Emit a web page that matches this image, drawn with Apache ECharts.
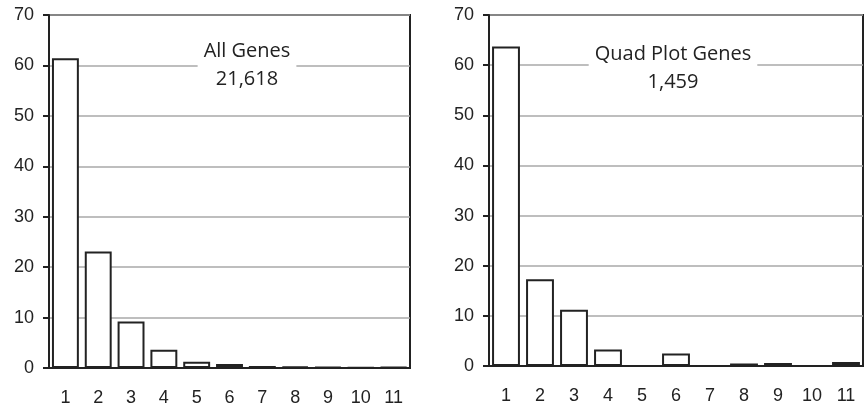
<!DOCTYPE html>
<html>
<head>
<meta charset="utf-8">
<script src="https://cdn.jsdelivr.net/npm/echarts@6/dist/echarts.min.js"></script>
<style>
  html, body { margin: 0; padding: 0; background: #fff; }
  #chart { width: 867px; height: 418px; }
</style>
</head>
<body>
<div id="chart"></div>
<script>
const categories = ['1', '2', '3', '4', '5', '6', '7', '8', '9', '10', '11']
const allGenes = [61.4, 23.1, 9.2, 3.6, 1.25, 0.8, 0.4, 0.25, 0.2, 0.1, 0.15]
const quadGenes = [63.7, 17.3, 11.2, 3.3, 0, 2.5, 0, 0.5, 0.6, 0, 0.8]
const panelTitles = ['All Genes\n21,618', 'Quad Plot Genes\n1,459']

const chart = echarts.init(document.getElementById('chart'))

const ink = '#222'
const labelFont = { color: ink, fontFamily: 'Liberation Sans', fontSize: 18 }

function xAxisFor(gridIndex) {
  return {
    type: 'category',
    gridIndex: gridIndex,
    data: categories,
    axisLine: { lineStyle: { color: ink, width: 2 } },
    axisTick: { length: 7, lineStyle: { color: ink, width: 2 } },
    axisLabel: Object.assign({ margin: 21 }, labelFont),
  }
}

function yAxisFor(gridIndex) {
  return {
    type: 'value',
    gridIndex: gridIndex,
    min: 0,
    max: 70,
    interval: 10,
    axisLine: { show: true, lineStyle: { color: ink, width: 2 } },
    axisTick: { show: true, length: 6, lineStyle: { color: ink, width: 2 } },
    axisLabel: Object.assign({ margin: 15 }, labelFont),
    splitLine: { lineStyle: { color: '#a8a8a8', width: 1.5 } },
  }
}

function barSeries(idx, values) {
  return {
    type: 'bar',
    xAxisIndex: idx,
    yAxisIndex: idx,
    data: values,
    barCategoryGap: '18%',
    itemStyle: { color: '#fff', borderColor: ink, borderWidth: 2 },
    silent: true,
  }
}

function titleFor(text, x, y) {
  return {
    text: text,
    left: x,
    top: y,
    textAlign: 'center',
    backgroundColor: '#fff',
    padding: [2, 6],
    textStyle: {
      color: ink,
      fontFamily: 'Open Sans',
      fontWeight: 'normal',
      fontSize: 20,
      lineHeight: 28,
      align: 'center',
    },
  }
}

const option = {
  animation: false,
  title: [
    titleFor(panelTitles[0], 241, 35),
    titleFor(panelTitles[1], 667, 38),
  ],
  grid: [
    { left: 49, right: 457, top: 15, bottom: 50, show: true, borderColor: ink, borderWidth: 2 },
    { left: 489, right: 4, top: 15, bottom: 52, show: true, borderColor: ink, borderWidth: 2 },
  ],
  xAxis: [xAxisFor(0), xAxisFor(1)],
  yAxis: [yAxisFor(0), yAxisFor(1)],
  series: [barSeries(0, allGenes), barSeries(1, quadGenes)],
}
chart.setOption(option)
</script>
</body>
</html>
